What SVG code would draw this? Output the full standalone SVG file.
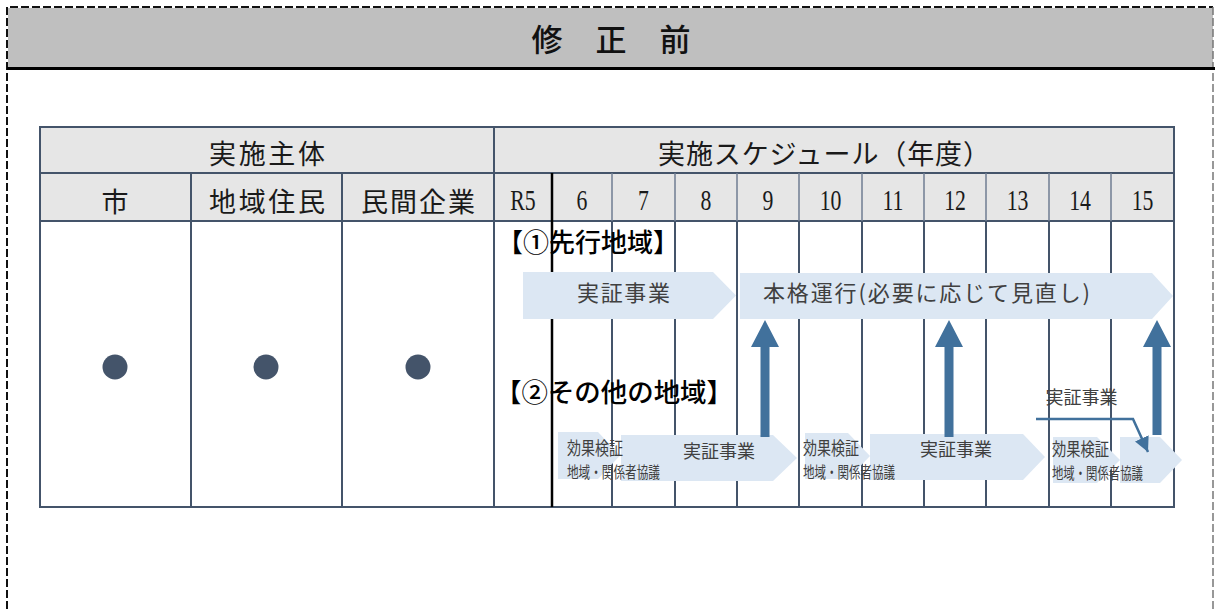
<svg xmlns="http://www.w3.org/2000/svg" width="1215" height="609" viewBox="0 0 1215 609">
<defs>
<style>
.jp{font-family:"Noto Sans CJK JP","Noto Sans CJK SC",sans-serif;}
.hdr{font-size:27px;fill:#1a1a1a;}
.yr{font-family:"Liberation Serif","Noto Sans CJK JP",serif;font-size:29px;fill:#1a1a1a;text-anchor:middle;}
.lbl{font-size:26px;fill:#000;font-weight:500;}
.chev{fill:#dce7f3;}
.ct{fill:#404040;}
.grid{stroke:#44546a;stroke-width:2;fill:none;}
.gridh{stroke:#6f7d92;stroke-width:1.5;fill:none;}
.up{fill:#41719c;}
.dot{fill:#44546a;}
</style>
<marker id="ah" viewBox="0 0 10 10" refX="10" refY="5" markerWidth="15" markerHeight="15" markerUnits="userSpaceOnUse" orient="auto">
<path d="M0,0 L10,5 L0,10 z" fill="#41719c"/>
</marker>
</defs>
<rect width="1215" height="609" fill="#fff"/>
<g id="frame">
<rect x="8" y="8" width="1205" height="60" fill="#bfbfbf"/>
<path d="M7,609 V7 H1213" fill="none" stroke="#111" stroke-width="2" stroke-dasharray="8,3"/>
<path d="M1213,7 V609" fill="none" stroke="#777" stroke-width="1.5" stroke-dasharray="8,3"/>
<line x1="7" y1="68.5" x2="1215" y2="68.5" stroke="#000" stroke-width="3"/>
<text class="jp" x="547 579 611 643 675" y="51" font-size="31" font-weight="500" text-anchor="middle" fill="#111">修 正 前</text>
</g>
<g id="table">
<rect x="40" y="127" width="1134" height="94" fill="#e6e6e6"/>
<rect x="40" y="127" width="1134" height="380" class="grid"/>
<line x1="40" y1="173" x2="1174" y2="173" class="grid"/>
<line x1="40" y1="221" x2="1174" y2="221" class="grid"/>
<line x1="494" y1="127" x2="494" y2="507" class="grid"/>
<line x1="191" y1="173" x2="191" y2="507" class="grid"/>
<line x1="342" y1="173" x2="342" y2="507" class="grid"/>
<g class="gridh">
<line x1="612" y1="173" x2="612" y2="221"/>
<line x1="675" y1="173" x2="675" y2="221"/>
<line x1="737" y1="173" x2="737" y2="221"/>
<line x1="799" y1="173" x2="799" y2="221"/>
<line x1="862" y1="173" x2="862" y2="221"/>
<line x1="924" y1="173" x2="924" y2="221"/>
<line x1="986" y1="173" x2="986" y2="221"/>
<line x1="1049" y1="173" x2="1049" y2="221"/>
<line x1="1111" y1="173" x2="1111" y2="221"/>
</g>
<g class="grid">
<line x1="612" y1="221" x2="612" y2="507"/>
<line x1="675" y1="221" x2="675" y2="507"/>
<line x1="737" y1="221" x2="737" y2="507"/>
<line x1="799" y1="221" x2="799" y2="507"/>
<line x1="862" y1="221" x2="862" y2="507"/>
<line x1="924" y1="221" x2="924" y2="507"/>
<line x1="986" y1="221" x2="986" y2="507"/>
<line x1="1049" y1="221" x2="1049" y2="507"/>
<line x1="1111" y1="221" x2="1111" y2="507"/>
</g>
<line x1="552" y1="173" x2="552" y2="507" stroke="#000" stroke-width="2.5"/>
<text class="jp hdr" x="209" y="164" textLength="116" lengthAdjust="spacing">実施主体</text>
<text class="jp hdr" x="658" y="164" textLength="332" lengthAdjust="spacing">実施スケジュール（年度）</text>
<text class="jp hdr" x="115" y="212" text-anchor="middle">市</text>
<text class="jp hdr" x="209" y="212" textLength="116" lengthAdjust="spacing">地域住民</text>
<text class="jp hdr" x="361" y="212" textLength="114" lengthAdjust="spacing">民間企業</text>
<text class="yr" transform="translate(523,210) scale(0.75,1)">R5</text>
<text class="yr" transform="translate(582,210) scale(0.75,1)">6</text>
<text class="yr" transform="translate(643.5,210) scale(0.75,1)">7</text>
<text class="yr" transform="translate(706,210) scale(0.75,1)">8</text>
<text class="yr" transform="translate(768,210) scale(0.75,1)">9</text>
<text class="yr" transform="translate(830.5,210) scale(0.75,1)">10</text>
<text class="yr" transform="translate(893,210) scale(0.75,1)">11</text>
<text class="yr" transform="translate(955,210) scale(0.75,1)">12</text>
<text class="yr" transform="translate(1017.5,210) scale(0.75,1)">13</text>
<text class="yr" transform="translate(1080,210) scale(0.75,1)">14</text>
<text class="yr" transform="translate(1142.5,210) scale(0.75,1)">15</text>
<circle class="dot" cx="115" cy="367" r="12.5"/>
<circle class="dot" cx="266" cy="367" r="12.5"/>
<circle class="dot" cx="418" cy="367" r="12.5"/>
</g>
<g id="region1">
<text class="jp lbl" x="497" y="252" textLength="182" lengthAdjust="spacingAndGlyphs">【①先行地域】</text>
</g>
<g id="top-demo">
<polygon class="chev" points="523,272 713,272 736,295.5 713,319 523,319"/>
<text class="jp ct" x="577" y="301" font-size="22" textLength="93" lengthAdjust="spacing">実証事業</text>
</g>
<g id="top-main">
<polygon class="chev" points="740,273 1152,273 1173,296 1152,319 740,319"/>
<text class="jp ct" x="763" y="301" font-size="22" textLength="327" lengthAdjust="spacing">本格運行(必要に応じて見直し)</text>
</g>
<g id="region2">
<text class="jp lbl" x="495" y="402" textLength="238" lengthAdjust="spacingAndGlyphs">【②その他の地域】</text>
</g>
<g id="eval-a">
<polygon class="chev" points="558,432 598,432 620,455.5 598,479 558,479"/>
</g>
<g id="demo-a">
<polygon class="chev" points="621,435 773,435 797,458 773,481 621,481"/>
<text class="jp ct" x="719" y="458" font-size="18" text-anchor="middle">実証事業</text>
</g>
<g id="eval-b">
<polygon class="chev" points="805,433 848,433 870,456 848,479 805,479"/>
</g>
<g id="demo-b">
<polygon class="chev" points="870,434 1023,434 1045,457 1023,480 870,480"/>
<text class="jp ct" x="956" y="456" font-size="18" text-anchor="middle">実証事業</text>
</g>
<g id="eval-c">
<polygon class="chev" points="1053,437 1097,437 1120,460 1097,483 1053,483"/>
</g>
<g id="demo-c">
<polygon class="chev" points="1120,437 1160,437 1182,460 1160,483 1120,483"/>
</g>
<g id="eval-texts">
<text class="jp ct" x="567" y="455" font-size="18" textLength="56" lengthAdjust="spacingAndGlyphs">効果検証</text>
<text class="jp ct" x="567" y="478" font-size="16" textLength="93" lengthAdjust="spacingAndGlyphs">地域・関係者協議</text>
<text class="jp ct" x="803" y="455" font-size="18" textLength="56" lengthAdjust="spacingAndGlyphs">効果検証</text>
<text class="jp ct" x="803" y="478" font-size="16" textLength="92" lengthAdjust="spacingAndGlyphs">地域・関係者協議</text>
<text class="jp ct" x="1052" y="456" font-size="18" textLength="57" lengthAdjust="spacingAndGlyphs">効果検証</text>
<text class="jp ct" x="1052" y="479" font-size="16" textLength="91" lengthAdjust="spacingAndGlyphs">地域・関係者協議</text>
</g>
<g id="demo-c-label">
<text class="jp ct" x="1081.5" y="404" font-size="18" text-anchor="middle">実証事業</text>
</g>
<g id="connectors">
<polygon class="up" points="760.5,437 769.5,437 769.5,347 779,347 765,320 751,347 760.5,347"/>
<polygon class="up" points="944.5,437 953.5,437 953.5,347 963,347 949,320 935,347 944.5,347"/>
<polygon class="up" points="1152.5,435 1161.5,435 1161.5,347 1171,347 1157,320 1143,347 1152.5,347"/>
<path d="M1036,419 H1133 L1148,452" fill="none" stroke="#41719c" stroke-width="2.5" marker-end="url(#ah)"/>
</g>
</svg>
